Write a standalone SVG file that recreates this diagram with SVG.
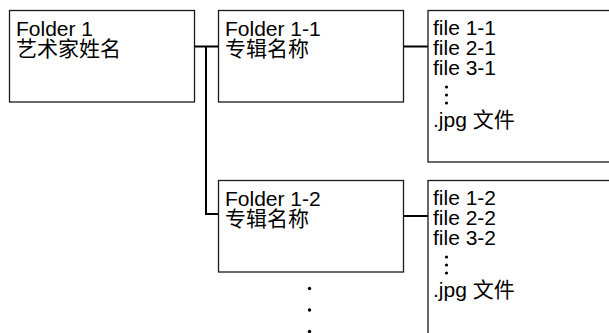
<svg xmlns="http://www.w3.org/2000/svg" width="609" height="333" viewBox="0 0 609 333">
<style>
.box{fill:#fff;stroke:#1a1a1a;stroke-width:1.3}
.t{font-family:"Liberation Sans","Noto Sans CJK SC",sans-serif;font-size:21px;fill:#000}
.c{fill:none;stroke:#000;stroke-width:2}
.d{fill:#000}
</style>
<rect width="609" height="333" fill="#fff"/>
<g id="connectors">
<path class="c" d="M194.5 46.5H218.5M206 46.5V214H218.5"/>
<path class="c" d="M403.5 46.5H428"/>
<path class="c" d="M403.5 216H428"/>
</g>
<g id="folder1">
<rect class="box" x="9.5" y="10.5" width="185" height="91.5"/>
<text class="t" x="16" y="36">Folder 1<tspan x="16" dy="20">艺术家姓名</tspan></text>
</g>
<g id="folder1-1">
<rect class="box" x="218.5" y="10.5" width="185" height="91.5"/>
<text class="t" x="225" y="36">Folder 1-1<tspan x="225" dy="20">专辑名称</tspan></text>
</g>
<g id="files1">
<rect class="box" x="428" y="10.5" width="190" height="151.5"/>
<text class="t" x="433" y="35">file 1-1<tspan x="433" dy="20">file 2-1</tspan><tspan x="433" dy="20">file 3-1</tspan><tspan x="433" dy="52">.jpg 文件</tspan></text>
<circle class="d" cx="446.5" cy="87" r="1.6"/>
<circle class="d" cx="446.5" cy="95" r="1.6"/>
<circle class="d" cx="446.5" cy="103" r="1.6"/>
</g>
<g id="folder1-2">
<rect class="box" x="218.5" y="180.5" width="185" height="91.5"/>
<text class="t" x="225" y="206">Folder 1-2<tspan x="225" dy="20">专辑名称</tspan></text>
</g>
<g id="files2">
<rect class="box" x="428" y="180.5" width="190" height="170"/>
<text class="t" x="433" y="205">file 1-2<tspan x="433" dy="20">file 2-2</tspan><tspan x="433" dy="20">file 3-2</tspan><tspan x="433" dy="52">.jpg 文件</tspan></text>
<circle class="d" cx="446.5" cy="257" r="1.6"/>
<circle class="d" cx="446.5" cy="265" r="1.6"/>
<circle class="d" cx="446.5" cy="273" r="1.6"/>
</g>
<g id="more">
<circle class="d" cx="309.5" cy="288.5" r="1.7"/>
<circle class="d" cx="309.5" cy="310" r="1.7"/>
<circle class="d" cx="309.5" cy="331.5" r="1.7"/>
</g>
</svg>
